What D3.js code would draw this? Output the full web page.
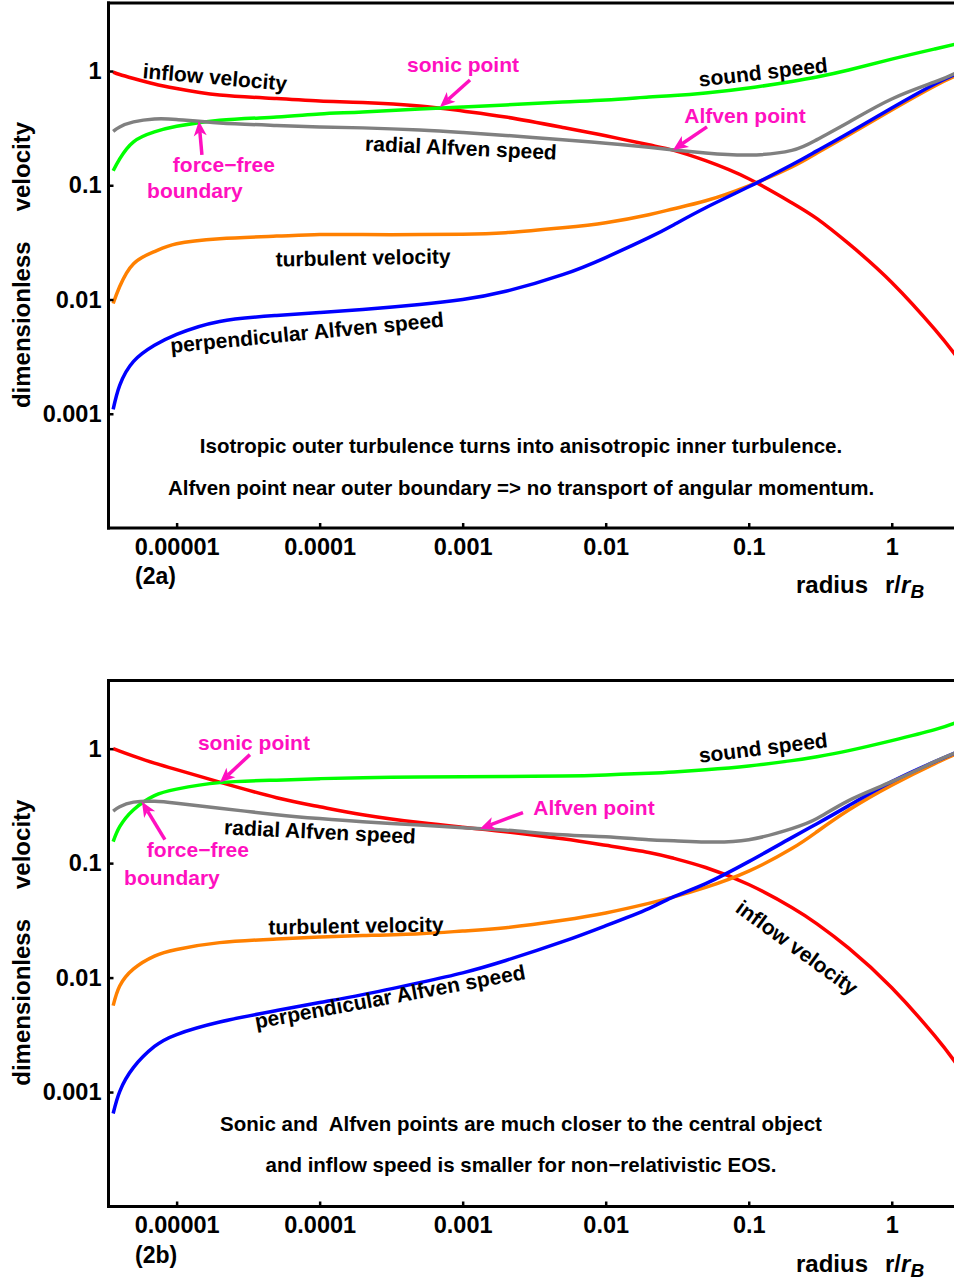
<!DOCTYPE html>
<html><head><meta charset="utf-8">
<script src="https://cdn.jsdelivr.net/npm/d3@7"></script>
<style>
html,body{margin:0;padding:0;background:#fff;}
svg{display:block;}
text{font-family:"Liberation Sans",Arial,Helvetica,sans-serif;font-weight:bold;}
</style></head><body>
<svg id="chart" width="954" height="1281"></svg>
<script>
// ---------- data ----------
const xTickValues = [1e-5, 1e-4, 1e-3, 1e-2, 1e-1, 1];
const xTickLabels = ["0.00001", "0.0001", "0.001", "0.01", "0.1", "1"];
const yTickValues = [0.001, 0.01, 0.1, 1];
const yTickLabels = ["0.001", "0.01", "0.1", "1"];

const radius = [3.6e-6, 4e-6, 5e-6, 7e-6, 1e-5, 2e-5, 5e-5, 1e-4, 2e-4, 5e-4, 1e-3, 2e-3,
                5e-3, 1e-2, 2e-2, 3e-2, 5e-2, 0.1, 0.2, 0.3, 0.5, 1, 2, 2.8];

// panel (2a)
const inflowA = [0.980, 0.932, 0.860, 0.770, 0.703, 0.617, 0.575, 0.547, 0.531, 0.495, 0.447, 0.396,
                 0.321, 0.271, 0.226, 0.202, 0.164, 0.114, 0.0703, 0.0510, 0.0308, 0.0141, 0.00547, 0.00324];
const soundA = [0.134, 0.170, 0.240, 0.293, 0.328, 0.370, 0.396, 0.421, 0.438, 0.466, 0.485, 0.505,
                0.536, 0.558, 0.593, 0.611, 0.642, 0.710, 0.810, 0.886, 1.02, 1.27, 1.56, 1.72];
const radialAlfvenA = [0.296, 0.324, 0.359, 0.381, 0.377, 0.351, 0.334, 0.324, 0.318, 0.305, 0.290, 0.273,
                       0.250, 0.233, 0.215, 0.204, 0.192, 0.184, 0.202, 0.251, 0.356, 0.569, 0.802, 0.961];
const turbulentA = [0.00923, 0.0130, 0.0206, 0.0263, 0.0308, 0.0341, 0.0359, 0.0370, 0.0370, 0.0370, 0.0373, 0.0385,
                    0.0425, 0.0470, 0.0553, 0.0624, 0.0732, 0.0990, 0.145, 0.192, 0.276, 0.456, 0.740, 0.905];
const perpAlfvenA = [0.00109, 0.00177, 0.00287, 0.00397, 0.00495, 0.00643, 0.00725, 0.00770, 0.00818, 0.00904, 0.0100, 0.0118,
                     0.0165, 0.0233, 0.0348, 0.0452, 0.0636, 0.0970, 0.151, 0.200, 0.287, 0.475, 0.770, 0.942];

// panel (2b)
const inflowB = [1.00, 0.951, 0.860, 0.747, 0.656, 0.510, 0.373, 0.311, 0.265, 0.226, 0.206, 0.188,
                 0.163, 0.143, 0.124, 0.110, 0.0915, 0.0650, 0.0410, 0.0295, 0.0181, 0.00815, 0.00309, 0.00180];
const soundB = [0.154, 0.208, 0.293, 0.389, 0.443, 0.505, 0.531, 0.547, 0.558, 0.566, 0.568, 0.570,
                0.577, 0.590, 0.610, 0.626, 0.655, 0.707, 0.786, 0.851, 0.961, 1.175, 1.466, 1.687];
const radialAlfvenB = [0.285, 0.311, 0.341, 0.347, 0.334, 0.302, 0.265, 0.245, 0.230, 0.215, 0.204, 0.194,
                       0.177, 0.170, 0.160, 0.157, 0.153, 0.160, 0.200, 0.245, 0.352, 0.515, 0.770, 0.923];
const turbulentB = [0.00569, 0.00843, 0.0119, 0.0154, 0.0176, 0.0202, 0.0217, 0.0226, 0.0233, 0.0242, 0.0255, 0.0273,
                    0.0317, 0.0367, 0.0445, 0.0507, 0.0614, 0.0851, 0.134, 0.188, 0.291, 0.480, 0.740, 0.894];
const perpAlfvenB = [0.000649, 0.00101, 0.00164, 0.00250, 0.00318, 0.00409, 0.00515, 0.00605, 0.00710, 0.00904, 0.0110, 0.0141,
                     0.0206, 0.0284, 0.0401, 0.0510, 0.0662, 0.103, 0.167, 0.221, 0.318, 0.515, 0.770, 0.923];

// ---------- drawing ----------
const W = 954;
const MAGENTA = "#ff10c0";
const svg = d3.select("#chart");
const defs = svg.append("defs");
const x = d3.scaleLog().domain([3.34e-6, 3]).range([108.5, 960]);
const X0 = 108.5;

function arrow(g, tx, ty, sx, sy) {
  const dx = tx - sx, dy = ty - sy, L = Math.hypot(dx, dy);
  const ux = dx / L, uy = dy / L, px = -uy, py = ux;
  const hl = 15, hw = 6.5, notch = 4;
  const bx = tx - ux * hl, by = ty - uy * hl;
  g.append("line").attr("x1", sx).attr("y1", sy)
    .attr("x2", tx - ux * (hl - notch)).attr("y2", ty - uy * (hl - notch))
    .attr("stroke", MAGENTA).attr("stroke-width", 3.5);
  g.append("path").attr("d", d3.line()([
      [tx, ty], [bx + px * hw, by + py * hw], [tx - ux * (hl - notch), ty - uy * (hl - notch)], [bx - px * hw, by - py * hw]
    ]) + "Z").attr("fill", MAGENTA);
}

function panel(opt) {
  const y = d3.scaleLog().domain([1e-4, 3.94]).range([opt.bottom, opt.top]);
  const g = svg.append("g");
  const clipId = "clip" + opt.id;
  defs.append("clipPath").attr("id", clipId).append("rect")
    .attr("x", X0).attr("y", opt.top).attr("width", W - X0).attr("height", opt.bottom - opt.top);

  const line = d3.line().x((d, i) => x(radius[i])).y(d => y(d)).curve(d3.curveNatural);
  const curves = g.append("g").attr("clip-path", `url(#${clipId})`);
  opt.series.forEach(s => {
    curves.append("path").attr("d", line(s.values)).attr("fill", "none")
      .attr("stroke", s.color).attr("stroke-width", 3.5).attr("stroke-linejoin", "round");
  });

  // axes
  const ax = g.append("g").attr("transform", `translate(0,${opt.bottom})`)
    .call(d3.axisBottom(x).tickValues(xTickValues).tickFormat((d, i) => xTickLabels[i])
      .tickSizeInner(-5).tickSizeOuter(0).tickPadding(10));
  ax.attr("font-size", 23.5).attr("font-family", null);
  ax.select(".domain").remove();
  ax.selectAll("line").attr("stroke", "#000").attr("stroke-width", 2.5);
  ax.selectAll("text").attr("fill", "#000");

  const ay = g.append("g").attr("transform", `translate(${X0},0)`)
    .call(d3.axisLeft(y).tickValues(yTickValues).tickFormat((d, i) => yTickLabels[i])
      .tickSizeInner(-5).tickSizeOuter(0).tickPadding(7));
  ay.attr("font-size", 23.5).attr("font-family", null);
  ay.select(".domain").remove();
  ay.selectAll("line").attr("stroke", "#000").attr("stroke-width", 2.5);
  ay.selectAll("text").attr("fill", "#000");

  // frame
  g.append("line").attr("x1", X0).attr("x2", X0).attr("y1", opt.top - 1.5).attr("y2", opt.bottom + 1.5)
    .attr("stroke", "#000").attr("stroke-width", 3);
  g.append("line").attr("x1", X0 - 1.5).attr("x2", W).attr("y1", opt.bottom).attr("y2", opt.bottom)
    .attr("stroke", "#000").attr("stroke-width", 3);
  g.append("line").attr("x1", X0 - 1.5).attr("x2", W).attr("y1", opt.top).attr("y2", opt.top)
    .attr("stroke", "#000").attr("stroke-width", 3);

  // axis labels
  const yl = g.append("text").attr("transform", `translate(30,${y(1) + 194}) rotate(-90)`)
    .attr("text-anchor", "middle").attr("font-size", 24);
  yl.append("tspan").text("dimensionless");
  yl.append("tspan").attr("dx", 30).text("velocity");

  const xl = g.append("text").attr("x", 796).attr("y", opt.bottom + 65).attr("font-size", 24);
  xl.append("tspan").text("radius");
  xl.append("tspan").attr("dx", 17).text("r/");
  xl.append("tspan").attr("font-style", "italic").text("r");
  xl.append("tspan").attr("font-style", "italic").attr("font-size", 19).attr("dy", 5).text("B");

  g.append("text").attr("x", 135).attr("y", opt.bottom + 56).attr("font-size", 23).text(opt.tag);

  // curve labels
  opt.labels.forEach(l => {
    g.append("text").attr("transform", `translate(${x(l.r)},${y(l.v)}) rotate(${l.rot})`)
      .attr("text-anchor", "middle").attr("dy", "0.35em").attr("font-size", 21).attr("fill", "#000").text(l.text);
  });

  // magenta annotations
  opt.points.forEach(p => {
    const tx = x(p.r), ty = y(p.v);
    arrow(g, tx, ty, tx + p.tail[0], ty + p.tail[1]);
    p.texts.forEach(t => {
      g.append("text").attr("x", tx + t.dx).attr("y", ty + t.dy).attr("dy", "0.35em")
        .attr("text-anchor", "middle").attr("font-size", 21).attr("fill", MAGENTA).text(t.text);
    });
  });

  // explanatory text
  opt.notes.forEach((n, i) => {
    g.append("text").attr("x", 521).attr("y", y(1) + 382 + 41.5 * i).attr("text-anchor", "middle")
      .attr("font-size", 20.5).style("white-space", "pre").attr("fill", "#000").text(n);
  });
}

panel({
  id: "a", top: 3, bottom: 528, tag: "(2a)",
  series: [
    { values: inflowA, color: "#ff0000" },
    { values: soundA, color: "#00ff00" },
    { values: turbulentA, color: "#ff8000" },
    { values: perpAlfvenA, color: "#0000ff" },
    { values: radialAlfvenA, color: "#808080" }
  ],
  labels: [
    { text: "inflow velocity", r: 1.853e-5, v: 0.886, rot: 5 },
    { text: "sound speed", r: 0.126, v: 0.98, rot: -6.5 },
    { text: "radial Alfven speed", r: 9.73e-4, v: 0.2126, rot: 2.7 },
    { text: "turbulent velocity", r: 2.01e-4, v: 0.02327, rot: -1 },
    { text: "perpendicular Alfven speed", r: 8.15e-5, v: 5.15e-3, rot: -5.5 }
  ],
  points: [
    { r: 6.94e-4, v: 0.485, tail: [30, -27], texts: [{ text: "sonic point", dx: 23, dy: -42 }] },
    { r: 0.02955, v: 0.204, tail: [34, -23], texts: [{ text: "Alfven point", dx: 72, dy: -34 }] },
    { r: 1.432e-5, v: 0.366, tail: [3, 34], texts: [{ text: "force\u2212free", dx: 25, dy: 43.5 }, { text: "boundary", dx: -4, dy: 70 }] }
  ],
  notes: ["Isotropic outer turbulence turns into anisotropic inner turbulence.",
          "Alfven point near outer boundary => no transport of angular momentum."]
});

panel({
  id: "b", top: 680.5, bottom: 1206.5, tag: "(2b)",
  series: [
    { values: inflowB, color: "#ff0000" },
    { values: soundB, color: "#00ff00" },
    { values: turbulentB, color: "#ff8000" },
    { values: perpAlfvenB, color: "#0000ff" },
    { values: radialAlfvenB, color: "#808080" }
  ],
  labels: [
    { text: "sound speed", r: 0.126, v: 1.02, rot: -7 },
    { text: "radial Alfven speed", r: 1.005e-4, v: 0.1885, rot: 2.8 },
    { text: "turbulent velocity", r: 1.795e-4, v: 0.02844, rot: -1 },
    { text: "perpendicular Alfven speed", r: 3.10e-4, v: 6.82e-3, rot: -10.5 },
    { text: "inflow velocity", r: 0.2177, v: 0.01828, rot: 36 }
  ],
  points: [
    { r: 2.008e-5, v: 0.505, tail: [30, -28], texts: [{ text: "sonic point", dx: 34, dy: -39.5 }] },
    { r: 1.321e-3, v: 0.200, tail: [43, -16], texts: [{ text: "Alfven point", dx: 114, dy: -21 }] },
    { r: 5.72e-6, v: 0.344, tail: [23, 38], texts: [{ text: "force\u2212free", dx: 56, dy: 48 }, { text: "boundary", dx: 30, dy: 76 }] }
  ],
  notes: ["Sonic and  Alfven points are much closer to the central object",
          "and inflow speed is smaller for non\u2212relativistic EOS."]
});
</script>
</body></html>
